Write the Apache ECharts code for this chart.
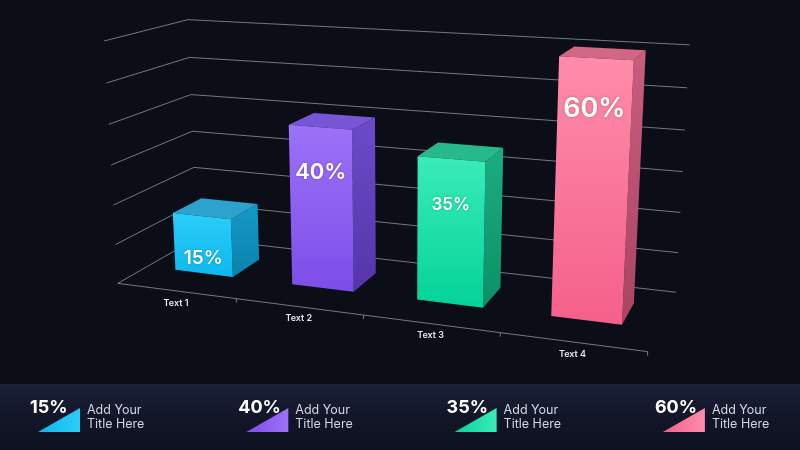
<!DOCTYPE html>
<html>
<head>
<meta charset="utf-8">
<script src="https://cdn.jsdelivr.net/npm/echarts@6/dist/echarts.min.js"></script>
<style>
html,body{margin:0;padding:0;background:#0b0d17;}
#chart{width:800px;height:450px;}
</style>
</head>
<body>
<div id="chart"></div>
<script>
// data
var categories = ['Text 1', 'Text 2', 'Text 3', 'Text 4'];
var values = [15, 40, 35, 60];
var valueTicks = [0, 10, 20, 30, 40, 50, 60];
var itemTitles = ['Add Your\nTitle Here', 'Add Your\nTitle Here', 'Add Your\nTitle Here', 'Add Your\nTitle Here'];

// styles
var frontColors = [['#2bcdf8', '#0cb8ef'], ['#9c72f7', '#7d4de9'], ['#3aecb8', '#03d398'], ['#ff8cab', '#f4608a']];
var sideColors = [['#1699c6', '#0a82ad'], ['#6c4bc9', '#5535a8'], ['#1aad80', '#0c9066'], ['#c95d7e', '#a94463']];
var topColors = ['#2ba3cd', '#7656d6', '#28b98b', '#d26785'];
var labelSizes = [19, 22, 17, 27];
var gridColor = 'rgba(200,205,218,0.55)';

// where the 3d frame sits on screen (camera is fitted to these)
var frontLeft = [[118,283],[116,244],[113,205],[111,165],[108,124],[107,83],[103,42]];
var backLeft = [[197,240],[195,203],[193,167],[192,131],[192,94],[190,57],[188,20]];
var backRight = [[676,292],[678,252],[680,212],[683,172],[685,130],[687,88],[690,45]];
var frontEdge = [[118,283],[237,299],[363,315],[500,333],[648,352]];

var pts = [];
frontLeft.forEach(function (p, k) { pts.push([0, k / 6, 0, p[0], p[1]]); });
backLeft.forEach(function (p, k) { pts.push([0, k / 6, 1, p[0], p[1]]); });
backRight.forEach(function (p, k) { pts.push([1, k / 6, 1, p[0], p[1]]); });
frontEdge.forEach(function (p, k) { pts.push([k / 4, 0, 0, p[0], p[1]]); });

function fitCamera(pts) {
    var n = 11, M = [];
    for (var r = 0; r < n; r++) { M.push(new Array(n + 1).fill(0)); }
    pts.forEach(function (q) {
        var X = q[0], Y = q[1], Z = q[2], x = q[3] / 100, y = q[4] / 100;
        var rows = [
            [[X, Y, Z, 1, 0, 0, 0, 0, -x * X, -x * Y, -x * Z], x],
            [[0, 0, 0, 0, X, Y, Z, 1, -y * X, -y * Y, -y * Z], y]
        ];
        rows.forEach(function (row) {
            var a = row[0], b = row[1];
            for (var i = 0; i < n; i++) {
                for (var j = 0; j < n; j++) M[i][j] += a[i] * a[j];
                M[i][n] += a[i] * b;
            }
        });
    });
    for (var c = 0; c < n; c++) {
        var piv = c;
        for (var r = c + 1; r < n; r++) if (Math.abs(M[r][c]) > Math.abs(M[piv][c])) piv = r;
        var t = M[c]; M[c] = M[piv]; M[piv] = t;
        for (var r = 0; r < n; r++) {
            if (r === c) continue;
            var f = M[r][c] / M[c][c];
            for (var j = c; j <= n; j++) M[r][j] -= f * M[c][j];
        }
    }
    var p = [];
    for (var i = 0; i < n; i++) p.push(M[i][n] / M[i][i]);
    return p;
}
var cam = fitCamera(pts);
function project(u, v, w) {
    var d = cam[8] * u + cam[9] * v + cam[10] * w + 1;
    return [
        100 * (cam[0] * u + cam[1] * v + cam[2] * w + cam[3]) / d,
        100 * (cam[4] * u + cam[5] * v + cam[6] * w + cam[7]) / d
    ];
}

var myChart = echarts.init(document.getElementById('chart'));

function toU(cs, x) { return (x - cs.x) / cs.width; }
function toV(cs, y) { return (cs.y + cs.height - y) / cs.height; }

function renderGrid(params, api) {
    var cs = params.coordSys;
    var v = toV(cs, api.coord([0, api.value(0)])[1]);
    return {
        type: 'polyline',
        silent: true,
        shape: { points: [project(0, v, 0), project(0, v, 1), project(1, v, 1)] },
        style: { stroke: gridColor, lineWidth: 1, fill: null }
    };
}

function renderFloor(params, api) {
    var cs = params.coordSys;
    var i = api.value(0);
    var c = api.coord([i, 0]);
    var band = api.size([1, 0])[0];
    var uc = toU(cs, c[0]);
    var uL = toU(cs, c[0] - band / 2), uR = toU(cs, c[0] + band / 2);
    var a = project(uL, 0, 0), b = project(uR, 0, 0), m = project(uc, 0, 0);
    return {
        type: 'group',
        children: [
            { type: 'line', shape: { x1: a[0], y1: a[1], x2: b[0], y2: b[1] }, style: { stroke: gridColor, lineWidth: 1 } },
            { type: 'line', shape: { x1: b[0], y1: b[1], x2: b[0], y2: b[1] + 4 }, style: { stroke: gridColor, lineWidth: 1 } },
            {
                type: 'text', x: m[0], y: m[1] + 12,
                style: {
                    text: categories[i], fill: '#e4e6ec', fontSize: 9, fontWeight: 600,
                    fontFamily: 'Inter', align: 'center', verticalAlign: 'middle'
                }
            }
        ]
    };
}

function renderBar(params, api) {
    var cs = params.coordSys;
    var i = api.value(0), val = api.value(1);
    var base = api.coord([i, 0]), top = api.coord([i, val]);
    var band = api.size([1, 0])[0];
    var uc = toU(cs, base[0]);
    var hw = band * 0.25 / cs.width;
    var vt = toV(cs, top[1]);
    var vl = toV(cs, api.coord([i, val - 11])[1]);
    var w0 = 0.35, w1 = 0.72, u0 = uc - hw, u1 = uc + hw;
    function grad(c) {
        return new echarts.graphic.LinearGradient(0, 0, 0, 1, [{ offset: 0, color: c[0] }, { offset: 1, color: c[1] }]);
    }
    var lp = project(uc, vl, w0);
    return {
        type: 'group',
        children: [
            { type: 'polygon', shape: { points: [project(u1, 0, w0), project(u1, 0, w1), project(u1, vt, w1), project(u1, vt, w0)] }, style: { fill: grad(sideColors[i]) } },
            { type: 'polygon', shape: { points: [project(u0, vt, w0), project(u1, vt, w0), project(u1, vt, w1), project(u0, vt, w1)] }, style: { fill: topColors[i] } },
            { type: 'polygon', shape: { points: [project(u0, 0, w0), project(u1, 0, w0), project(u1, vt, w0), project(u0, vt, w0)] }, style: { fill: grad(frontColors[i]) } },
            {
                type: 'text', x: lp[0], y: lp[1],
                style: {
                    text: val + '%', fill: '#ffffff', fontSize: labelSizes[i], fontWeight: 600,
                    fontFamily: 'Inter', align: 'center', verticalAlign: 'middle',
                    textShadowColor: 'rgba(0,0,0,0.25)', textShadowBlur: 3
                }
            }
        ]
    };
}

// bottom strip
var graphics = [{
    type: 'rect', left: 0, top: 384, silent: true, z: 0,
    shape: { width: 800, height: 66 },
    style: { fill: new echarts.graphic.LinearGradient(0, 0, 0, 1, [{ offset: 0, color: '#1b2037' }, { offset: 0.5, color: '#121629' }, { offset: 1, color: '#0d101d' }]) }
}];
values.forEach(function (v, i) {
    var x0 = 38 + i * 208.3;
    graphics.push({
        type: 'polygon', z: 1,
        shape: { points: [[x0, 432], [x0 + 42, 408], [x0 + 42, 432]] },
        style: { fill: new echarts.graphic.LinearGradient(0, 0, 1, 0, [{ offset: 0, color: frontColors[i][1] }, { offset: 1, color: frontColors[i][0] }]) }
    });
    graphics.push({
        type: 'text', z: 2, x: x0 - 8, y: 408,
        style: { text: v + '%', fill: '#ffffff', fontSize: 18, fontWeight: 700, fontFamily: 'Inter', verticalAlign: 'middle' }
    });
    graphics.push({
        type: 'text', z: 2, x: x0 + 49, y: 417,
        style: { text: itemTitles[i], fill: '#d2d5de', fontSize: 12.5, lineHeight: 14.5, fontFamily: 'Inter', verticalAlign: 'middle' }
    });
});

option = {
    backgroundColor: '#0b0d17',
    animation: false,
    grid: { left: 0, right: 0, top: 0, bottom: 0 },
    xAxis: { type: 'category', data: categories, show: false },
    yAxis: { type: 'value', min: 0, max: 60, interval: 10, show: false },
    graphic: graphics,
    series: [
        { type: 'custom', renderItem: renderGrid, data: valueTicks.map(function (t) { return [t]; }), encode: { y: 0 }, z: 1, silent: true },
        { type: 'custom', renderItem: renderFloor, data: categories.map(function (c, i) { return [i]; }), encode: { x: 0 }, z: 2, silent: true },
        { type: 'custom', renderItem: renderBar, data: values.map(function (v, i) { return [i, v]; }), encode: { x: 0, y: 1 }, z: 3 }
    ]
};

myChart.setOption(option);
</script>
</body>
</html>
